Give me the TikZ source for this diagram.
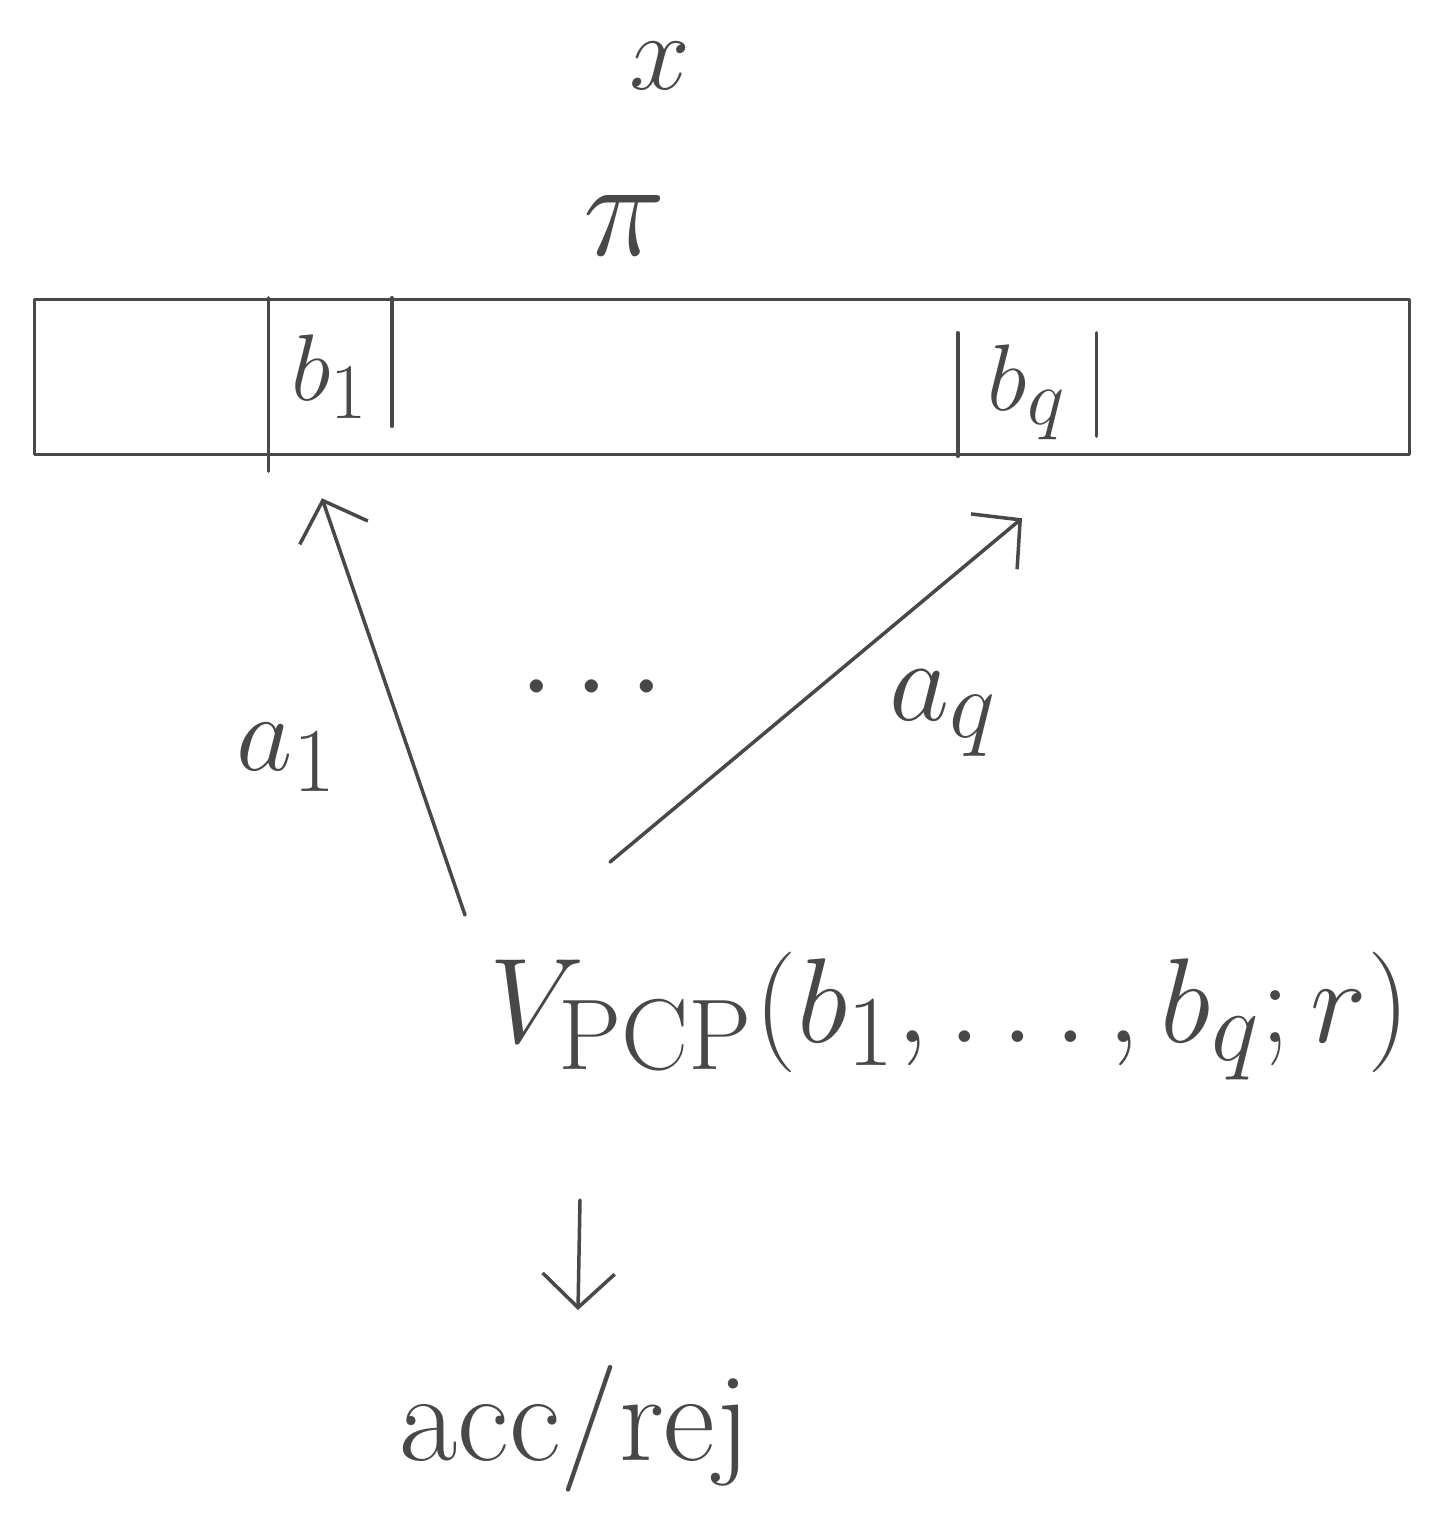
\documentclass[tikz,border=0pt]{standalone}
\usetikzlibrary{arrows.meta}
\definecolor{ink}{HTML}{484848}
\newcommand{\hwtext}[2]{\scalebox{#1}{\Huge #2}}
\begin{document}
\begin{tikzpicture}[x=1pt,y=-1pt, draw=ink, line width=3.5pt, line cap=round, line join=round,
  lbl/.style={text=ink, inner sep=0pt},
  cell/.style={minimum width=#1, minimum height=155pt, inner sep=0pt},
  tip/.style={-{Straight Barb[length=34pt,width=72pt,line width=3.5pt]}}]
\useasboundingbox (0,0) rectangle (1434,1513);
% labels at top
\node[lbl] (x) at (660,66) {\hwtext{4.4}{$x$}};
\node[lbl] (pi) at (625,225) {\hwtext{5.6}{$\pi$}};
% tape
\node[draw, minimum width=1375pt, minimum height=155pt, inner sep=0pt] (tape) at (722,377) {};
\node[cell=120pt] (b1) at (330,377) {};
\node[cell=135pt] (bq) at (1027,377) {};
\draw (b1.north west) -- ([yshift=-15pt]b1.south west);
\draw (b1.north east) -- ([yshift=30pt]b1.south east);
\draw ([yshift=-35pt]bq.north west) -- (bq.south west);
\draw ([yshift=-35pt]bq.north east) -- ([yshift=20pt]bq.south east);
\node[lbl] (b1t) at (b1) {\hwtext{3.8}{$b_1$}};
\node[lbl] (bqt) at ([yshift=-15pt]bq.center) {\hwtext{3.8}{$b_q$}};
% verifier
\node[lbl, anchor=base west] (v) at (488,1042) {\hwtext{4.85}{$V_{\mathrm{PCP}}(b_1,\ldots,b_q;r)$}};
\node[lbl, anchor=base west] (a1) at (235,770) {\hwtext{4.4}{$a_1$}};
\node[lbl, anchor=base west] (aq) at (888,720) {\hwtext{4.7}{$a_q$}};
\node[lbl] (dots) at (592,690) {\hwtext{5}{$\cdots$}};
% arrows
\coordinate (s1) at (465,915);
\coordinate (s2) at (610,862);
\draw[tip] (s1) -- ([xshift=-8pt,yshift=-42pt]b1.south);
\draw[tip] (s2) -- ([xshift=-5pt,yshift=-62pt]bq.south);
\node[lbl, anchor=base] (acc) at (575,1460) {\hwtext{5.1}{acc/rej}};
\coordinate (d1) at (580,1200);
\coordinate (d2) at (578,1310);
\draw[tip] (d1) -- (d2);
\end{tikzpicture}
\end{document}
